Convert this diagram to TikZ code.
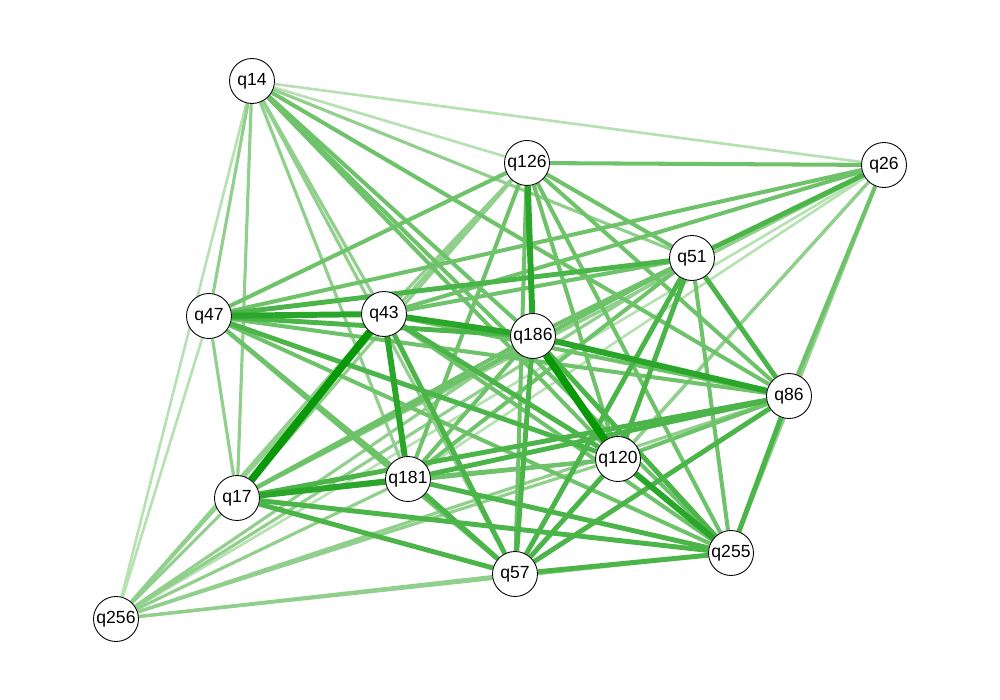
\documentclass[tikz,border=0pt]{standalone}
\usepackage{fontspec}
\setmainfont{Liberation Sans}
\usetikzlibrary{backgrounds}
\definecolor{edgeA}{RGB}{182,225,177}
\definecolor{edgeB}{RGB}{145,208,140}
\definecolor{edgeC}{RGB}{110,195,106}
\definecolor{edgeD}{RGB}{76,181,73}
\definecolor{edgeE}{RGB}{42,166,42}
\definecolor{edgeF}{RGB}{8,152,8}

\tikzset{
  item/.style={circle,draw=black,line width=0.5pt,fill=white,minimum size=0.9cm,inner sep=0pt,font=\fontsize{10}{12}\selectfont},
  wA/.style={edgeA,line width=1.5pt},
  wB/.style={edgeB,line width=1.8pt},
  wC/.style={edgeC,line width=2.3pt},
  wD/.style={edgeD,line width=2.8pt},
  wE/.style={edgeE,line width=3.4pt},
  wF/.style={edgeF,line width=4.3pt}
}

\begin{document}
\begin{tikzpicture}
\useasboundingbox (0,0) rectangle (20,14);
% items
\node[item] (q14) at (5.04,12.38) {q14};
\node[item] (q126) at (10.54,10.74) {q126};
\node[item] (q26) at (17.68,10.70) {q26};
\node[item] (q51) at (13.84,8.84) {q51};
\node[item] (q47) at (4.18,7.68) {q47};
\node[item] (q43) at (7.68,7.72) {q43};
\node[item] (q186) at (10.66,7.28) {q186};
\node[item] (q86) at (15.78,6.08) {q86};
\node[item] (q120) at (12.36,4.82) {q120};
\node[item] (q181) at (8.16,4.42) {q181};
\node[item] (q17) at (4.74,4.04) {q17};
\node[item] (q255) at (14.62,2.94) {q255};
\node[item] (q57) at (10.30,2.52) {q57};
\node[item] (q256) at (2.32,1.62) {q256};

% correlations, weakest first
\begin{pgfonlayer}{background}
\foreach \a/\b in {14/126,14/26,14/256,26/181,26/256,47/256}
  \draw[wA] (q\a) -- (q\b);
\foreach \a/\b in {14/51,14/47,14/43,14/181,14/17,14/57,126/43,126/17,126/256,
    26/186,26/120,26/17,26/255,26/57,51/256,47/17,43/256,186/256,86/256,
    120/256,181/256,17/256,255/256,57/256}
  \draw[wB] (q\a) -- (q\b);
\foreach \a/\b in {14/186,14/86,14/120,14/255,126/26,126/51,126/47,126/86,126/120,
    126/181,126/255,126/57,26/47,26/43,26/86,51/43,51/186,51/181,51/17,51/255,
    47/86,47/181,47/255,47/57,43/86,43/255,186/181,186/17,86/120,120/181,120/17}
  \draw[wC] (q\a) -- (q\b);
\foreach \a/\b in {26/51,51/47,51/86,51/120,51/57,47/186,47/120,43/120,43/57,
    186/255,186/57,86/181,86/17,86/255,86/57,120/57,181/255,181/57,17/255,17/57,255/57}
  \draw[wD] (q\a) -- (q\b);
\foreach \a/\b in {126/186,47/43,43/186,43/181,186/86,120/255,181/17}
  \draw[wE] (q\a) -- (q\b);
\foreach \a/\b in {43/17,186/120}
  \draw[wF] (q\a) -- (q\b);
\end{pgfonlayer}
\end{tikzpicture}
\end{document}
